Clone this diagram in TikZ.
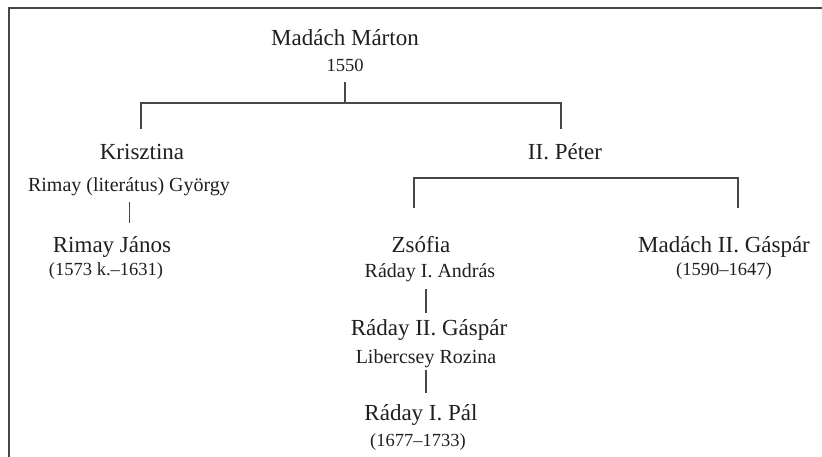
\documentclass[tikz,border=0pt]{standalone}
\usepackage{fontspec}
\setmainfont{Liberation Serif}
\begin{document}
\begin{tikzpicture}[x=1pt,y=-1pt,
    person/.style={anchor=base,inner sep=0pt,text=black!88,font=\fontsize{23}{23}\selectfont},
    spouse/.style={anchor=base,inner sep=0pt,text=black!88,font=\fontsize{20}{20}\selectfont},
    years/.style={anchor=base,inner sep=0pt,text=black!88,font=\fontsize{18.5}{18.5}\selectfont},
    link/.style={draw=black!72,line width=1.3pt}]
    \useasboundingbox (0,0) rectangle (822,457);
    \draw[black!72,line width=1.6pt] (9,457) -- (9,8) -- (822,8);
    % first generation
    \node[person] (marton) at (345,46) {Madách Márton};
    \node[years] (marton-y) at (345,72) {1550};
    % children
    \node[person] (krisztina) at (142,160) {Krisztina};
    \node[spouse] (gyorgy) at (129,192) {Rimay (literátus) György};
    \node[person] (janos) at (112,252) {Rimay János};
    \node[years] (janos-y) at (106,276) {(1573 k.--1631)};
    \node[person] (peter) at (565,160) {II. Péter};
    % grandchildren
    \node[person] (zsofia) at (421,252) {Zsófia};
    \node[spouse] (andras) at (430,277) {Ráday I. András};
    \node[person] (gaspar) at (724,252) {Madách II. Gáspár};
    \node[years] (gaspar-y) at (724,276) {(1590--1647)};
    \node[person] (rgaspar) at (429,335) {Ráday II. Gáspár};
    \node[spouse] (rozina) at (426,363) {Libercsey Rozina};
    \node[person] (pal) at (421,420) {Ráday I. Pál};
    \node[years] (pal-y) at (418,446) {(1677--1733)};
    % connectors
    \coordinate (marton-stem) at (345,82);
    \coordinate (bar-mid) at (345,103);
    \coordinate (bar-l) at (141,103);
    \coordinate (bar-r) at (561,103);
    \coordinate (krisztina-top) at (141,129);
    \coordinate (peter-top) at (561,129);
    \draw[link] (marton-stem) -- (bar-mid);
    \draw[link] (krisztina-top) -- (bar-l) -- (bar-r) -- (peter-top);
    \coordinate (gyorgy-stem) at (129,202);
    \coordinate (janos-top) at (129,223);
    \draw[link,line width=1pt] (gyorgy-stem) -- (janos-top);
    \coordinate (pbar-l) at (414,178);
    \coordinate (pbar-r) at (738,178);
    \coordinate (zsofia-top) at (414,208);
    \coordinate (gaspar-top) at (738,208);
    \draw[link] (zsofia-top) -- (pbar-l) -- (pbar-r) -- (gaspar-top);
    \coordinate (andras-stem) at (426,289);
    \coordinate (rgaspar-top) at (426,313);
    \draw[link] (andras-stem) -- (rgaspar-top);
    \coordinate (rozina-stem) at (426,370);
    \coordinate (pal-top) at (426,393);
    \draw[link] (rozina-stem) -- (pal-top);
\end{tikzpicture}
\end{document}
